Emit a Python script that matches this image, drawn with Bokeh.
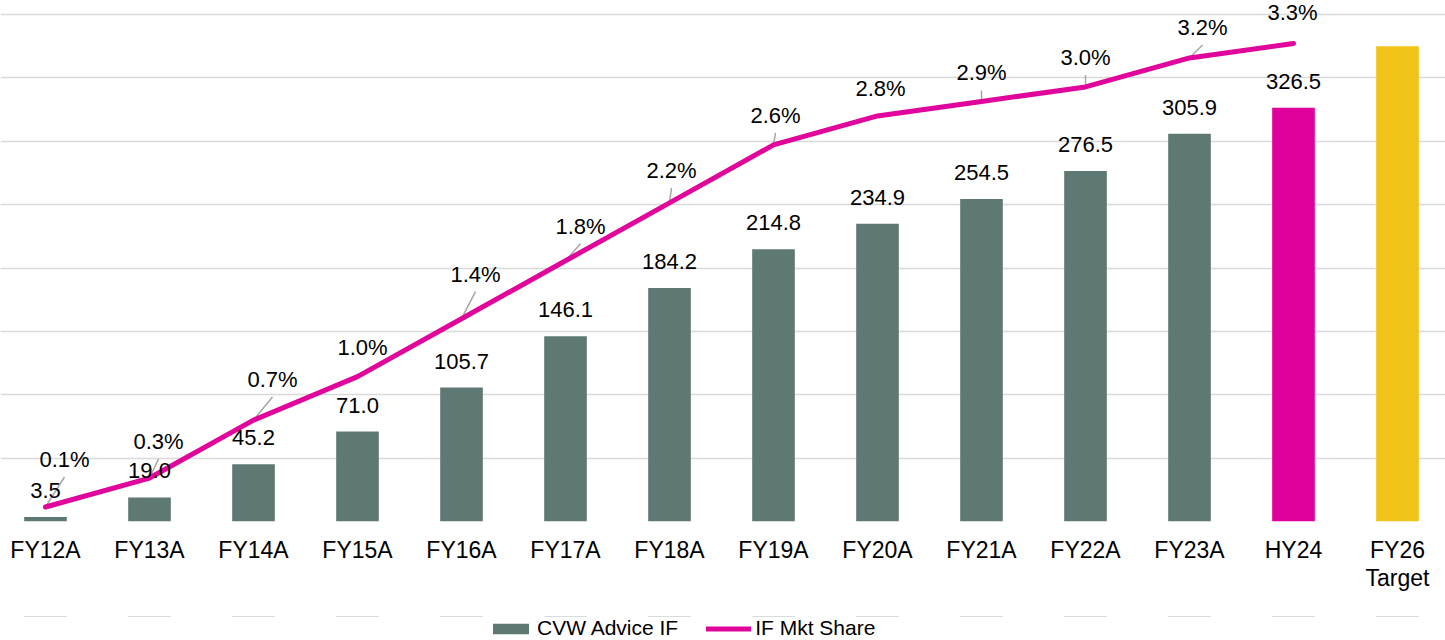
from bokeh.plotting import figure
from bokeh.layouts import column
from bokeh.models import (ColumnDataSource, Range1d, FixedTicker, LabelSet, Legend, LegendItem)
from bokeh.core.properties import value
from bokeh.embed import file_html
from bokeh.resources import INLINE

# ---------------- data ----------------
categories = ["FY12A", "FY13A", "FY14A", "FY15A", "FY16A", "FY17A", "FY18A",
              "FY19A", "FY20A", "FY21A", "FY22A", "FY23A", "HY24", "FY26\nTarget"]
advice_if = [3.5, 19.0, 45.2, 71.0, 105.7, 146.1, 184.2, 214.8, 234.9, 254.5,
             276.5, 305.9, 326.5, 375.0]
advice_labels = ["3.5", "19.0", "45.2", "71.0", "105.7", "146.1", "184.2", "214.8",
                 "234.9", "254.5", "276.5", "305.9", "326.5", ""]
share_categories = categories[:13]
mkt_share = [0.1, 0.3, 0.7, 1.0, 1.4, 1.8, 2.2, 2.6, 2.8, 2.9, 3.0, 3.2, 3.3]
series_names = ["CVW Advice IF", "IF Mkt Share"]

# ---------------- style ----------------
GREY = "#5E7874"
MAGENTA = "#E0069B"
YELLOW = "#F1C419"
bar_colors = [GREY] * 12 + ["#E0009B", YELLOW]
FONT = "Liberation Sans"
FS = "22px"
# label offsets (pixels) for share labels, and whether a leader line is drawn
share_dx = [19, 9, 19, 5, 14, 15, 2, 2, 3, 0, 0, 13, -1]
share_up = [40, 29, 33, 22, 37, 27, 25, 22, 20, 21, 22, 23, 23]
share_leader = [True, True, True, False, True, True, True, True, False, True, True, True, False]

W = 1445
FRAME_BOTTOM = 521          # pixel of the zero line
MAIN_H = 616
LEG_H = 24
PX_PER_UNIT = 507 / 400     # pixels per primary unit
PX_PER_PCT = 507 / 3.5      # pixels per 1 % of share
X0, X1 = 7 / 104, (W + 7) / 104
Y_MAX = FRAME_BOTTOM / PX_PER_UNIT
S_MAX = FRAME_BOTTOM / PX_PER_PCT
px_x = W / (X1 - X0)

xs = [i + 0.5 for i in range(len(categories))]
xs_share = xs[:len(mkt_share)]

p = figure(frame_width=W, frame_height=FRAME_BOTTOM,
           output_backend="svg", toolbar_location=None,
           x_range=Range1d(X0, X1), y_range=Range1d(0, Y_MAX),
           min_border_left=0, min_border_right=0, min_border_top=0,
           min_border_bottom=MAIN_H - FRAME_BOTTOM)
p.extra_y_ranges = {"share": Range1d(0, S_MAX)}
p.outline_line_color = None
p.background_fill_color = "white"
p.border_fill_color = "white"

# axes / grid
p.yaxis.visible = False
p.xgrid.visible = False
p.ygrid.ticker = FixedTicker(ticks=list(range(0, 401, 50)))
p.ygrid.grid_line_color = "#D9D9D9"
p.ygrid.grid_line_width = 1.6
p.xaxis.ticker = FixedTicker(ticks=xs)
p.xaxis.major_label_overrides = {x: c for x, c in zip(xs, categories)}
p.xaxis.axis_line_color = None
p.xaxis.major_tick_line_color = None
p.xaxis.minor_tick_line_color = None
p.xaxis.major_tick_out = 0
p.xaxis.major_tick_in = 0
p.xaxis.minor_tick_out = 0
p.xaxis.major_label_standoff = 15
p.xaxis.major_label_text_font = FONT
p.xaxis.major_label_text_font_size = "23px"
p.xaxis.major_label_text_line_height = 1.1
p.xaxis.major_label_text_color = "#000000"

# bars
bsrc = ColumnDataSource(dict(x=xs, top=advice_if, color=bar_colors, label=advice_labels))
p.vbar(x="x", top="top", width=0.41, bottom=0, source=bsrc,
       fill_color="color", line_color=None)
p.add_layout(LabelSet(x="x", y="top", text="label", source=bsrc, y_offset=19,
                      text_align="center", text_baseline="alphabetic",
                      text_font=value(FONT), text_font_size=value(FS),
                      text_color="#000000"))

# leader lines
lx0, ly0, lx1, ly1 = [], [], [], []
for x, s, dx, up, flag in zip(xs_share, mkt_share, share_dx, share_up, share_leader):
    if flag:
        lx0.append(x)
        ly0.append(s)
        lx1.append(x + dx / px_x)
        ly1.append(s + (up - 10) / PX_PER_PCT)
p.segment(x0=lx0, y0=ly0, x1=lx1, y1=ly1, y_range_name="share",
          line_color="#A6A6A6", line_width=1.5)

# share line
ssrc = ColumnDataSource(dict(x=xs_share, y=mkt_share,
                             label=[f"{v:.1f}%" for v in mkt_share],
                             dx=share_dx, up=share_up))
p.line(x="x", y="y", source=ssrc, y_range_name="share", line_color=MAGENTA,
       line_width=5, line_cap="round", line_join="round")
p.add_layout(LabelSet(x="x", y="y", text="label", source=ssrc, y_range_name="share",
                      x_offset="dx", y_offset="up",
                      text_align="center", text_baseline="alphabetic",
                      text_font=value(FONT), text_font_size=value(FS),
                      text_color="#000000"))

# ---------------- legend strip (same series, drawn out of its view) ----------------
pl = figure(width=W, height=LEG_H, output_backend="svg", toolbar_location=None,
            x_range=Range1d(X0, X1), y_range=Range1d(-2, -1),
            min_border_left=0, min_border_right=0, min_border_top=0, min_border_bottom=0)
pl.axis.visible = False
pl.grid.visible = False
pl.outline_line_color = None
pl.background_fill_color = "white"
pl.border_fill_color = "white"
leg_bar = pl.vbar(x=xs, top=advice_if, bottom=0, width=0.41, fill_color=GREY, line_color=None)
leg_line = pl.line(x=xs_share, y=mkt_share, line_color=MAGENTA, line_width=5, line_cap="round")
legend = Legend(items=[LegendItem(label=series_names[0], renderers=[leg_bar]),
                       LegendItem(label=series_names[1], renderers=[leg_line])],
                orientation="horizontal", location=(488, 0),
                glyph_width=45, glyph_height=13, label_standoff=4, spacing=28,
                padding=0, margin=0, border_line_alpha=0, background_fill_alpha=0,
                label_text_font=FONT, label_text_font_size="21px",
                label_text_color="#000000")
pl.add_layout(legend, "center")

layout = column(p, pl, spacing=0)
open("out.html", "w").write(file_html(layout, INLINE))
